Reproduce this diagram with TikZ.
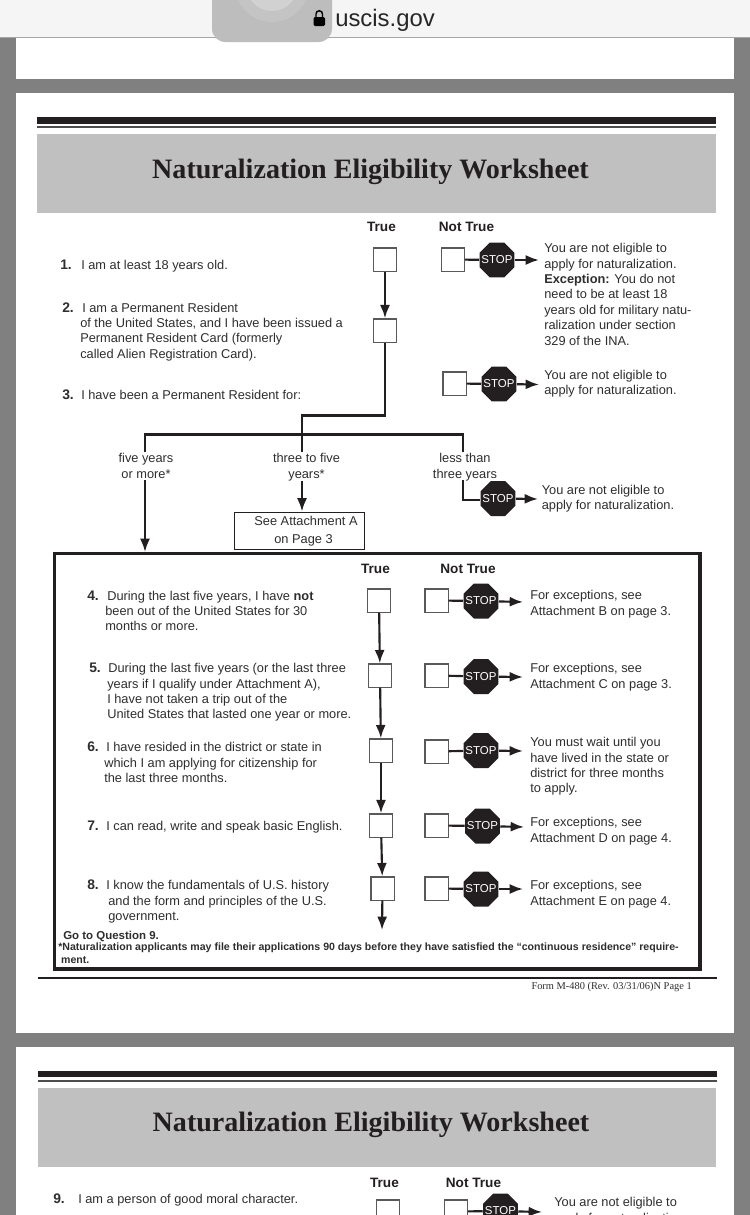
\documentclass[tikz,border=0pt]{standalone}
\usepackage{fontspec}
\setmainfont{Liberation Sans}
\newfontfamily\timesfont{Liberation Serif}
\usetikzlibrary{arrows.meta,shapes.geometric}
\definecolor{pagegrey}{HTML}{808080}
\definecolor{bargrey}{HTML}{C0C0C0}
\definecolor{inkdark}{HTML}{231F20}
\definecolor{textdark}{HTML}{2E2E2E}
\tikzset{
	bodytext/.style={font=\fontsize{9.6}{11.6}\selectfont,text=textdark,align=left,anchor=north west,inner sep=0pt},
	numtext/.style={bodytext,font=\fontsize{10.4}{11.6}\selectfont\bfseries},
	headtext/.style={font=\fontsize{10.2}{12}\selectfont\bfseries,text=inkdark,inner sep=0pt},
	titletext/.style={font=\timesfont\fontsize{21.05}{26}\selectfont\bfseries,text=inkdark,inner sep=0pt},
	tickbox/.style={draw=black!65,fill=white,line width=.9pt,minimum size=17.4pt,inner sep=0pt},
	stopword/.style={text=white,inner sep=0pt,font=\fontsize{8.6}{10}\selectfont},
	stopsign/.style={regular polygon,regular polygon sides=8,fill=inkdark,
		minimum size=28.4pt,inner sep=0pt,label={[stopword]center:STOP}},
	flowline/.style={draw=inkdark,line width=1.6pt},
	flowarrow/.style={flowline,-{Latex[length=10pt,width=7.5pt]}},
}
\begin{document}
\begin{tikzpicture}[x=.75pt,y=-.75pt]
	\useasboundingbox (0,0) rectangle (750,1215);
	% pages
	\fill[pagegrey] (0,0) rectangle (750,1215);
	\fill[white] (16,30) rectangle (734,79);
	\fill[white] (16,93) rectangle (734,1033);
	\fill[white] (16,1047) rectangle (734,1215);
	% browser bar
	\fill[black!4] (0,0) rectangle (750,37);
	\draw[black!35,line width=.8pt] (0,37.5)--(750,37.5);
	\fill[black!26,rounded corners=10pt] (212,-20) rectangle (332,42);
	\begin{scope}
		\clip (212,0) rectangle (332,42);
		\fill[black!23] (272,-15) circle (37);
		\fill[black!18] (272,-15) circle (26);
	\end{scope}
	\fill[black,rounded corners=1pt] (313.5,17) rectangle (325,26);
	\draw[black,line width=1.1pt] (316,17)--(316,14) arc (180:360:3.25)--(322.5,17);
	\node[anchor=west,inner sep=0pt,font=\fontsize{17.9}{20}\selectfont,text=black!85] (site) at (335,20) {uscis.gov};
	% first page head
	\fill[inkdark] (37,117) rectangle (716,123.5);
	\fill[inkdark!80] (37,126) rectangle (716,127.6);
	\fill[bargrey] (37,133.5) rectangle (715.5,212.5);
	\node[titletext] (title) at (370.5,172) {Naturalization Eligibility Worksheet};
	\node[headtext] (headT) at (381.5,226.5) {True};
	\node[headtext] (headN) at (466.5,226.5) {Not True};
	% questions 1 to 3
	\node[numtext] at (60,259.5) {1.};
	\node[bodytext] at (81,259.5) {I am at least 18 years old.};
	\node[numtext] at (62,302.5) {2.};
	\node[bodytext] at (80,302.5) {\hspace*{1.5pt}I am a Permanent Resident\\of the United States, and I have been issued a\\Permanent Resident Card (formerly\\called Alien Registration Card).};
	\node[numtext] at (62,389.5) {3.};
	\node[bodytext] at (81,389.5) {I have been a Permanent Resident for:};
	\node[tickbox] (T1) at (385,259.5) {};
	\node[tickbox] (T2) at (385,330.5) {};
	\node[tickbox] (N1) at (453,259.5) {};
	\node[tickbox] (N3) at (454.5,383.5) {};
	\node[stopsign] (S1) at (497,260) {};
	\node[stopsign] (S3) at (499,384) {};
	\coordinate (tip1) at (539,260);
	\coordinate (tip3) at (539,384.5);
	\draw[flowarrow] (T1)--(T2);
	\draw[flowline] (N1)--(S1);
	\draw[flowarrow] (S1)--(tip1);
	\draw[flowline] (N3)--(S3);
	\draw[flowarrow] (S3)--(tip3);
	\node[bodytext] at (544,243) {You are not eligible to\\apply for naturalization.\\\textbf{Exception:} You do not\\need to be at least 18\\years old for military natu-\\ralization under section\\329 of the INA.};
	\node[bodytext] at (544,369.5) {You are not eligible to\\apply for naturalization.};
	% branches
	\coordinate (bendA) at (385,415.5);
	\coordinate (bendB) at (302,415.5);
	\coordinate (dropC) at (145,434.5);
	\coordinate (dropD) at (463,434.5);
	\coordinate (endB) at (302,452);
	\coordinate (endC) at (145,452);
	\coordinate (endD) at (463,452);
	\draw[flowline] (T2)--(bendA)--(bendB)--(endB);
	\draw[flowline] (endC)--(dropC)--(dropD)--(endD);
	\node[bodytext,align=center,anchor=north] (lblC) at (146,453) {five years\\or more*};
	\node[bodytext,align=center,anchor=north] (lblB) at (306.5,453) {three to five\\years*};
	\node[bodytext,align=center,anchor=north] (lblD) at (465,453) {less than\\three years};
	\node[draw=inkdark,line width=.7pt,fill=white,minimum width=97pt,minimum height=27.8pt,inner sep=0pt] (attA) at (299.3,530.5) {};
	\node[bodytext,align=center,anchor=north] at (306,515.5) {See Attachment A};
	\node[bodytext,align=center,anchor=north] at (303.5,534) {on Page 3};
	\node[stopsign] (S2) at (498,498.5) {};
	\coordinate (tip2) at (538,499);
	\coordinate (startS2) at (463,480);
	\coordinate (cornerS2) at (463,500);
	\coordinate (startA) at (302,481);
	\coordinate (startM) at (145,480);
	\coordinate (endM) at (145,552);
	\draw[flowarrow] (startA)--(attA.north -| startA);
	\draw[flowarrow] (startM)--(endM);
	\draw[flowline] (startS2)--(cornerS2)--(S2.west |- cornerS2);
	\draw[flowarrow] (S2)--(tip2);
	\node[bodytext] at (541.5,484.5) {You are not eligible to\\apply for naturalization.};
	% main box
	\draw[draw=inkdark,line width=2.4pt] (54.3,553.5) rectangle (700,969);
	\node[headtext] at (375.5,568.5) {True};
	\node[headtext] at (468,568.5) {Not True};
	\node[numtext] at (87,590.5) {4.};
	\node[bodytext] at (105,590.5) {\hspace*{1.5pt}During the last five years, I have \textbf{not}\\been out of the United States for 30\\months or more.};
	\node[numtext] at (89,663) {5.};
	\node[bodytext] at (107,663) {\hspace*{.8pt}During the last five years (or the last three\\years if I qualify under Attachment A),\\I have not taken a trip out of the\\United States that lasted one year or more.};
	\node[numtext] at (87,742) {6.};
	\node[bodytext] at (104,742) {\hspace*{1.5pt}I have resided in the district or state in\\which I am applying for citizenship for\\the last three months.};
	\node[numtext] at (87,821) {7.};
	\node[bodytext] at (106,821) {I can read, write and speak basic English.};
	\node[numtext] at (87,880) {8.};
	\node[bodytext] at (106,880) {I know the fundamentals of U.S. history\\\hspace*{1.5pt}and the form and principles of the U.S.\\\hspace*{1.5pt}government.};
	\node[tickbox] (T4) at (379,600.5) {};
	\node[tickbox] (T5) at (380,675.5) {};
	\node[tickbox] (T6) at (381,750.5) {};
	\node[tickbox] (T7) at (381,825.5) {};
	\node[tickbox] (T8) at (382.5,888.5) {};
	\coordinate (tipT) at (382,930);
	\draw[flowarrow] (T4)--(T5);
	\draw[flowarrow] (T5)--(T6);
	\draw[flowarrow] (T6)--(T7);
	\draw[flowarrow] (T7)--(T8);
	\draw[flowarrow] (T8)--(tipT);
	\node[tickbox] (N4) at (436.5,600.5) {};
	\node[tickbox] (N5) at (436.5,675.5) {};
	\node[tickbox] (N6) at (436.5,751.5) {};
	\node[tickbox] (N7) at (436.5,825.5) {};
	\node[tickbox] (N8) at (436.5,888.5) {};
	\node[stopsign] (S4) at (481,601) {};
	\node[stopsign] (S5) at (481,676.5) {};
	\node[stopsign] (S6) at (481,750.5) {};
	\node[stopsign] (S7) at (482.5,826) {};
	\node[stopsign] (S8) at (481,889) {};
	\coordinate (tip4) at (523,602);
	\coordinate (tip5) at (523,677);
	\coordinate (tip6) at (523,751);
	\coordinate (tip7) at (524,827);
	\coordinate (tip8) at (523,889);
	\draw[flowline] (N4)--(S4);
	\draw[flowline] (N5)--(S5);
	\draw[flowline] (N6)--(S6);
	\draw[flowline] (N7)--(S7);
	\draw[flowline] (N8)--(S8);
	\draw[flowarrow] (S4)--(tip4);
	\draw[flowarrow] (S5)--(tip5);
	\draw[flowarrow] (S6)--(tip6);
	\draw[flowarrow] (S7)--(tip7);
	\draw[flowarrow] (S8)--(tip8);
	\node[bodytext] at (530,590) {For exceptions, see\\Attachment B on page 3.};
	\node[bodytext] at (530,663) {For exceptions, see\\Attachment C on page 3.};
	\node[bodytext] at (530,737) {You must wait until you\\have lived in the state or\\district for three months\\to apply.};
	\node[bodytext] at (530,817) {For exceptions, see\\Attachment D on page 4.};
	\node[bodytext] at (530,880) {For exceptions, see\\Attachment E on page 4.};
	\node[bodytext,font=\fontsize{8.6}{10}\selectfont\bfseries] at (63,930.5) {Go to Question 9.};
	\node[bodytext,font=\fontsize{7.93}{10}\selectfont\bfseries] at (58,942.5) {*Naturalization applicants may file their applications 90 days before they have satisfied the “continuous residence” require-\\\hspace*{2.2pt}ment.};
	% foot of first page
	\draw[inkdark,line width=.8pt] (38,978)--(717,978);
	\node[anchor=east,inner sep=0pt,text=textdark,font=\timesfont\fontsize{7.8}{9}\selectfont] (foot) at (692,987) {Form M-480 (Rev. 03/31/06)N Page 1};
	% second page
	\fill[inkdark] (38,1071) rectangle (717,1077);
	\fill[inkdark!80] (38,1080) rectangle (717,1081.6);
	\fill[bargrey] (38,1087.5) rectangle (716,1167);
	\node[titletext] (title2) at (371,1125) {Naturalization Eligibility Worksheet};
	\node[headtext] at (384.5,1182.5) {True};
	\node[headtext] at (473.5,1182.5) {Not True};
	\node[numtext] at (53,1193.5) {9.};
	\node[bodytext] at (78,1193.5) {I am a person of good moral character.};
	\node[tickbox] (T9) at (388,1211.5) {};
	\node[tickbox] (N9) at (456,1211.5) {};
	\node[stopsign] (S9) at (500.5,1211) {};
	\coordinate (tip9) at (542,1212);
	\draw[flowline] (N9)--(S9);
	\draw[flowarrow] (S9)--(tip9);
	\node[bodytext] at (554,1197) {You are not eligible to\\apply for naturalization.};
\end{tikzpicture}
\end{document}
